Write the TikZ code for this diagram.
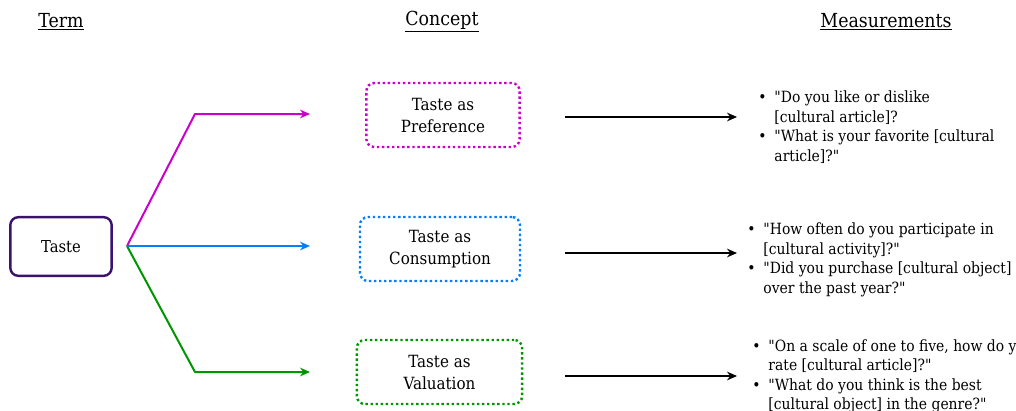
\documentclass[tikz,border=0pt]{standalone}
\usepackage{fontspec}
\setmainfont{DejaVu Serif Condensed}[Ligatures=TeXOff]
\usetikzlibrary{arrows.meta}
\definecolor{tpurple}{RGB}{58,18,110}
\definecolor{tmagenta}{RGB}{204,0,204}
\definecolor{tblue}{RGB}{0,128,255}
\definecolor{tgreen}{RGB}{0,150,0}
\tikzset{
  termbox/.style={draw=tpurple, line width=1.8pt, rounded corners=6pt, minimum width=76pt, minimum height=44pt},
  conceptbox/.style={line width=1.8pt, dotted, rounded corners=6pt, minimum height=48pt, align=center, font=\fontsize{12.6}{16.5}\selectfont},
  heading/.style={font=\fontsize{14.5}{17}\selectfont},
  measure/.style={anchor=north west, inner sep=0pt},
}
\newcommand{\bq}{\textbullet}
\begin{document}
\begin{tikzpicture}[x=0.75pt, y=-0.75pt, font=\fontsize{11.6}{14.6}\selectfont, line join=round, >={Stealth[length=7.5pt,width=6.5pt]}]
	\useasboundingbox (0,0) rectangle (1016,410);
	\clip (0,0) rectangle (1016,410);
	\def\xa{310} \def\xb{565} \def\xc{737}
	% headings
	\path
(61,22) node[heading] (hterm) {\underline{Term}}
(442,22) node[heading] (hconcept) {\underline{Concept}}
(886,22) node[heading] (hmeas) {\underline{Measurements}};
	% term
	\node[termbox, font=\fontsize{12.3}{15}\selectfont] (taste) at (61,246.5) {Taste};
	\coordinate (fork) at (127,246);
	\coordinate (bendp) at (195,114);
	\coordinate (bendv) at (195,372);
	\coordinate (endp) at (\xa,114);
	\coordinate (endc) at (\xa,246);
	\coordinate (endv) at (\xa,372);
	\draw[tmagenta, line width=1.5pt, ->] (fork) -- (bendp) -- (endp);
	\draw[tblue, line width=1.5pt, ->] (fork) -- (endc);
	\draw[tgreen, line width=1.5pt, ->] (fork) -- (bendv) -- (endv);
	% concepts
	\node[conceptbox, draw=tmagenta, minimum width=115pt] (pref) at (443,115) {Taste as\\Preference};
	\node[conceptbox, draw=tblue, minimum width=120pt] (cons) at (440,249) {Taste as\\Consumption};
	\node[conceptbox, draw=tgreen, minimum width=124pt] (valu) at (439.5,372) {Taste as\\Valuation};
	% arrows to measurements
	\foreach \n/\y in {p/117, c/253, v/376}{
		\coordinate (s\n) at (\xb,\y);
		\coordinate (t\n) at (\xc,\y);
		\draw[line width=1.2pt, ->] (s\n) -- (t\n);
	}
	% measurements
	\node[measure] (mpref) at (758,89) {\begin{tabular}{@{}l@{\hspace{6pt}}l@{}}
\bq & "Do you like or dislike\\
 & [cultural article]?\\
\bq & "What is your favorite [cultural\\
 & article]?"
\end{tabular}};
	\node[measure] (mcons) at (747,221) {\begin{tabular}{@{}l@{\hspace{6pt}}l@{}}
\bq & "How often do you participate in\\
 & [cultural activity]?"\\
\bq & "Did you purchase [cultural object]\\
 & over the past year?"
\end{tabular}};
	\node[measure] (mvalu) at (752,337.5) {\begin{tabular}{@{}l@{\hspace{6pt}}l@{}}
\bq & "On a scale of one to five, how do you\\
 & rate [cultural article]?"\\
\bq & "What do you think is the best\\
 & [cultural object] in the genre?"
\end{tabular}};
\end{tikzpicture}
\end{document}
